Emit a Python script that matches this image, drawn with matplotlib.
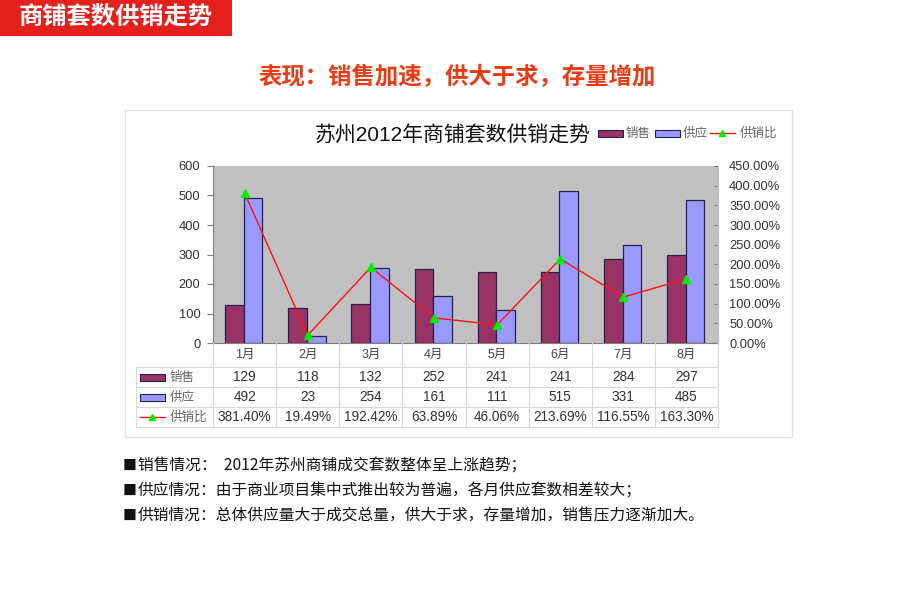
import numpy as np
import matplotlib
matplotlib.use("Agg")
import matplotlib.pyplot as plt
import matplotlib.transforms as mtransforms
from matplotlib.patches import Rectangle
from matplotlib.lines import Line2D

plt.rcParams["font.family"] = ["Liberation Sans", "Noto Sans CJK SC", "DejaVu Sans"]
CJK = ["Noto Sans CJK SC", "DejaVu Sans"]
MIX = ["Liberation Sans", "Noto Sans CJK SC", "DejaVu Sans"]

# data
months = ["1月", "2月", "3月", "4月", "5月", "6月", "7月", "8月"]
sales = [129, 118, 132, 252, 241, 241, 284, 297]
supply = [492, 23, 254, 161, 111, 515, 331, 485]
ratio = [381.40, 19.49, 192.42, 63.89, 46.06, 213.69, 116.55, 163.30]
left_ticks = [0, 100, 200, 300, 400, 500, 600]
right_ticks = [0, 50, 100, 150, 200, 250, 300, 350, 400, 450]
bullets = [
    ("销售情况：  2012年苏州商铺成交套数整体呈上涨趋势；"),
    ("供应情况：由于商业项目集中式推出较为普遍，各月供应套数相差较大；"),
    ("供销情况：总体供应量大于成交总量，供大于求，存量增加，销售压力逐渐加大。"),
]

C_SALE = "#993366"
C_SUP = "#9999FF"
C_EDGE = "#22224A"
C_GRID = "#D8D8D8"

W, H = 920, 589
fig = plt.figure(figsize=(W / 100, H / 100), dpi=100, facecolor="white")


def fx(px):
    return px / W


def fy(py):
    return 1 - py / H


# header banner
fig.patches.append(Rectangle((0, fy(36)), fx(232), 36 / H, transform=fig.transFigure,
                             facecolor="#E3201C", edgecolor="none"))
fig.text(fx(116), fy(18), "商铺套数供销走势", color="white", fontsize=17.5,
         fontweight="bold", family=CJK, ha="center", va="center")
fig.text(fx(457), fy(77), "表现：销售加速，供大于求，存量增加", color="#EE3A12",
         fontsize=16.8, fontweight="bold", family=CJK, ha="center", va="center")

# chart frame (behind the axes)
fig.patches.append(Rectangle((fx(125), fy(437)), fx(792 - 125), (437 - 110) / H,
                             transform=fig.transFigure, facecolor="white",
                             edgecolor="#E2E2E2", lw=1, zorder=-5))

# main axes
ax = fig.add_axes([fx(213), fy(343), (718 - 213) / W, (343 - 166) / H])
ax.set_facecolor("#C0C0C0")
x = np.arange(len(months))
w = 0.295
ax.bar(x - w / 2 - 0.012, sales, w, color=C_SALE, edgecolor=C_EDGE, lw=0.9, zorder=2)
ax.bar(x + w / 2 - 0.012, supply, w, color=C_SUP, edgecolor=C_EDGE, lw=0.9, zorder=2)
ax.set_xlim(-0.5, len(months) - 0.5)
ax.set_ylim(0, 600)
ax.set_yticks(left_ticks)
ax.tick_params(axis="y", length=4, color="#808080", labelsize=9.3, pad=5, labelcolor="#333333")
ax.set_xticks(x)
ax.set_xticklabels(months, family=MIX, fontsize=9, color="#444444")
ax.tick_params(axis="x", length=0, pad=4)
for s in ["top", "right"]:
    ax.spines[s].set_visible(False)
for s in ["left", "bottom"]:
    ax.spines[s].set_color("#808080")
    ax.spines[s].set_linewidth(0.8)

ax2 = ax.twinx()
ax2.set_ylim(0, 450)
ax2.set_yticks(right_ticks)
ax2.set_yticklabels([f"{v:.2f}%" for v in right_ticks])
ax2.tick_params(axis="y", direction="in", length=3, color="#808080", labelsize=9.3,
                pad=8, labelcolor="#333333")
for s in ["top", "left", "bottom"]:
    ax2.spines[s].set_visible(False)
ax2.spines["right"].set_color("#C0C0C0")
ax2.plot(x, ratio, color="#FF1010", lw=1, marker="^", ms=5.5,
         mfc="#00EE00", mec="#00EE00", zorder=3)

# title and legend
fig.text(fx(453), fy(135), "苏州2012年商铺套数供销走势", family=MIX, fontsize=15,
         color="#111111", ha="center", va="center")


def key_patch(x0, ycen, color):
    fig.patches.append(Rectangle((fx(x0), fy(ycen + 3.5)), fx(25), 7 / H,
                                 transform=fig.transFigure, facecolor=color,
                                 edgecolor=C_EDGE, lw=0.8))


def key_line(x0, ycen):
    fig.lines.append(Line2D([fx(x0), fx(x0 + 25)], [fy(ycen), fy(ycen)],
                            transform=fig.transFigure, color="#FF1010", lw=1))
    fig.lines.append(Line2D([fx(x0 + 12.5)], [fy(ycen)], transform=fig.transFigure,
                            marker="^", ms=5, mfc="#00EE00", mec="#00EE00", lw=0))


leg_y = 133
key_patch(598, leg_y, C_SALE)
fig.text(fx(626), fy(leg_y), "销售", family=CJK, fontsize=9, color="#666666", va="center")
key_patch(655, leg_y, C_SUP)
fig.text(fx(683), fy(leg_y), "供应", family=CJK, fontsize=9, color="#666666", va="center")
key_line(710, leg_y)
fig.text(fx(740), fy(leg_y), "供销比", family=CJK, fontsize=9, color="#666666", va="center")

# data table
tr = mtransforms.blended_transform_factory(ax.transData, fig.transFigure)
row_lines = [367, 387, 407, 427]
for py in row_lines:
    fig.lines.append(Line2D([fx(136), fx(718)], [fy(py), fy(py)], transform=fig.transFigure,
                            color=C_GRID, lw=0.8))
fig.lines.append(Line2D([fx(136), fx(136)], [fy(367), fy(427)], transform=fig.transFigure,
                        color=C_GRID, lw=0.8))
for b in np.arange(len(months) + 1) - 0.5:
    fig.lines.append(Line2D([b, b], [fy(343), fy(427)], transform=tr, color=C_GRID, lw=0.8))

rows = [
    (377, "销售", [str(v) for v in sales]),
    (397, "供应", [str(v) for v in supply]),
    (417, "供销比", [f"{v:.2f}%" for v in ratio]),
]
for py, label, vals in rows:
    for xi, v in zip(x, vals):
        fig.text(xi, fy(py), v, transform=tr, fontsize=9.8, color="#333333",
                 ha="center", va="center")
    fig.text(fx(170), fy(py), label, family=CJK, fontsize=9, color="#666666", va="center")
key_patch(140, 377, C_SALE)
key_patch(140, 397, C_SUP)
key_line(140, 417)

# bullet notes
for i, t in enumerate(bullets):
    py = 466 + i * 25
    fig.text(fx(123), fy(py), "■", family=CJK, fontsize=10, color="#111111", va="center")
    fig.text(fx(138), fy(py), t, family=CJK, fontsize=11.3, color="#111111", va="center")

fig.savefig("out.png", dpi=100, facecolor="white")
